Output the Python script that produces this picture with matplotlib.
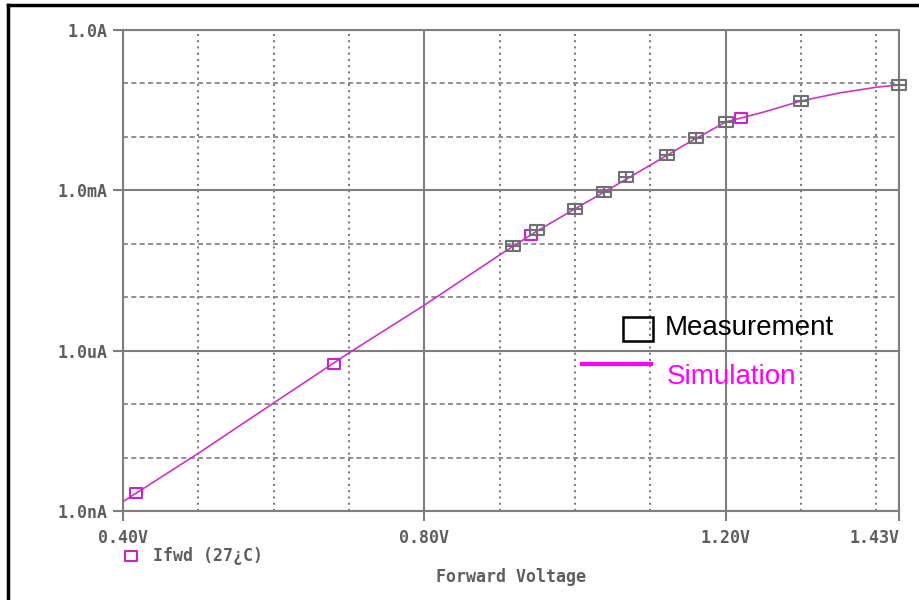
import matplotlib
matplotlib.use('Agg')
import matplotlib.pyplot as plt
from matplotlib.path import Path
from matplotlib.lines import Line2D
from matplotlib.patches import Rectangle
from matplotlib.ticker import FixedLocator, NullFormatter

# simulated forward current trace
sim_v = [0.40, 0.50, 0.60, 0.70, 0.80, 0.90, 0.95, 1.00, 1.05, 1.10, 1.15,
         1.20, 1.25, 1.30, 1.35, 1.40, 1.43]
sim_i = [1.5e-9, 1.2e-8, 1.05e-7, 9.1e-7, 7.1e-6, 6.2e-5, 1.75e-4, 4.5e-4,
         1.15e-3, 2.97e-3, 7.7e-3, 1.9e-2, 2.9e-2, 4.7e-2, 6.6e-2, 8.5e-2, 9.4e-2]

# simulation markers (magenta boxes)
simmark_v = [0.417, 0.680, 0.942, 1.220]
simmark_i = [2.2e-9, 5.6e-7, 1.45e-4, 2.25e-2]

# measured points
meas_v = [0.918, 0.949, 1.000, 1.039, 1.068, 1.122, 1.160, 1.200, 1.300, 1.430]
meas_i = [9.1e-5, 1.8e-4, 4.5e-4, 9.3e-4, 1.8e-3, 4.6e-3, 9.5e-3, 1.9e-2, 4.7e-2, 9.4e-2]

x_major = [0.40, 0.80, 1.20, 1.43]
x_labels = ['0.40V', '0.80V', '1.20V', '1.43V']
x_minor = [0.5, 0.6, 0.7, 0.9, 1.0, 1.1, 1.3, 1.4]
y_major = [1e-9, 1e-6, 1e-3, 1.0]
y_labels = ['1.0nA', '1.0uA', '1.0mA', '1.0A']
y_minor = [1e-8, 1e-7, 1e-5, 1e-4, 1e-2, 1e-1]

GRAY = '#807c80'
TXT = '#5e5e5e'
MAG = '#cc33cc'
mono = dict(family='DejaVu Sans Mono', fontweight='bold', fontsize=12, color=TXT)

# box marker, and box with a cross for measurements
box = Path([(-1.3, -1), (1.3, -1), (1.3, 1), (-1.3, 1), (-1.3, -1)],
           [Path.MOVETO, Path.LINETO, Path.LINETO, Path.LINETO, Path.CLOSEPOLY])
boxplus = Path([(-1.3, -1), (1.3, -1), (1.3, 1), (-1.3, 1), (-1.3, -1),
                (-1.3, 0), (1.3, 0), (0, -1), (0, 1)],
               [Path.MOVETO, Path.LINETO, Path.LINETO, Path.LINETO, Path.CLOSEPOLY,
                Path.MOVETO, Path.LINETO, Path.MOVETO, Path.LINETO])

fig = plt.figure(figsize=(9.2, 6), dpi=100)
ax = fig.add_axes([123 / 920, 1 - 511 / 600, 776 / 920, 481 / 600])

ax.plot(sim_v, sim_i, color=MAG, lw=1.2, zorder=3)
ax.plot(simmark_v, simmark_i, ls='none', marker=box, markersize=9,
        mfc='none', mec='#cc22cc', mew=1.5, zorder=4)
ax.plot(meas_v, meas_i, ls='none', marker=boxplus, markersize=9.5,
        mfc='none', mec='#707070', mew=1.5, zorder=5, clip_on=False)

ax.set_yscale('log')
ax.set_xlim(0.40, 1.43)
ax.set_ylim(1e-9, 1.0)

ax.xaxis.set_major_locator(FixedLocator(x_major))
ax.xaxis.set_minor_locator(FixedLocator(x_minor))
ax.yaxis.set_major_locator(FixedLocator(y_major))
ax.yaxis.set_minor_locator(FixedLocator(y_minor))
ax.yaxis.set_minor_formatter(NullFormatter())
ax.set_xticklabels(x_labels, **mono)
ax.set_yticklabels(y_labels, **mono)
ax.get_xticklabels()[-1].set_horizontalalignment('right')
ax.get_xticklabels()[-1].set_x(1.432)

ax.tick_params(which='major', direction='out', length=7, width=1.5, color=GRAY, pad=4)
ax.tick_params(axis='x', which='major', pad=6)
ax.tick_params(which='minor', length=0)

ax.xaxis.grid(True, which='major', color=GRAY, lw=1.5, ls='-')
ax.yaxis.grid(True, which='major', color=GRAY, lw=1.5, ls='-')
ax.xaxis.grid(True, which='minor', color=GRAY, lw=1.5, ls=(0, (1, 2)))
ax.yaxis.grid(True, which='minor', color=GRAY, lw=1.2, ls=(0, (3, 2)))
ax.set_axisbelow(True)
for s in ax.spines.values():
    s.set_color(GRAY)
    s.set_linewidth(1.5)

# x axis title and trace legend in PSpice style
fig.text(511 / 920, 1 - 577 / 600, 'Forward Voltage', ha='center', va='center', **mono)
fig.add_artist(Line2D([131 / 920], [1 - 556 / 600], marker=box, markersize=9,
                      mfc='none', mec='#cc22cc', mew=1.5, ls='none'))
fig.text(153 / 920, 1 - 556 / 600, 'Ifwd (27¿C)', ha='left', va='center', **mono)

# Measurement / Simulation key
fig.add_artist(Rectangle((623 / 920, 1 - 341 / 600), 30 / 920, 24 / 600,
                         transform=fig.transFigure, fill=False, ec='black', lw=1.8))
fig.text(665 / 920, 1 - 328 / 600, 'Measurement', ha='left', va='center',
         family='Liberation Sans', fontsize=20, color='black')
fig.add_artist(Line2D([582 / 920, 651 / 920], [1 - 364 / 600, 1 - 364 / 600],
                      transform=fig.transFigure, color='#ff00ff', lw=3))
fig.text(667 / 920, 1 - 377 / 600, 'Simulation', ha='left', va='center',
         family='Liberation Sans', fontsize=20, color='#ff00ff')

# outer frame remnants (top and left edges)
fig.add_artist(Line2D([8 / 920, 1.0], [1 - 5 / 600, 1 - 5 / 600],
                      transform=fig.transFigure, color='black', lw=2.5))
fig.add_artist(Line2D([8 / 920, 8 / 920], [0, 1 - 5 / 600],
                      transform=fig.transFigure, color='black', lw=2.5))

plt.savefig('out.png', dpi=100)
plt.close()
